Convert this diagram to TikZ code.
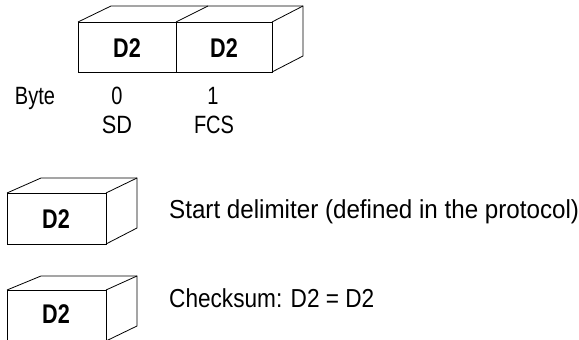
\documentclass[tikz,border=0pt]{standalone}
\usepackage{fontspec}
\setmainfont[FakeStretch=0.8]{Liberation Sans}
\newfontfamily\legendA[FakeStretch=0.93]{Liberation Sans}
\newfontfamily\legendB[FakeStretch=0.87]{Liberation Sans}
\begin{document}
\begin{tikzpicture}[x=1pt,y=-1pt,
  boxline/.style={draw=black,line width=0.8pt,line join=miter},
  lbl/.style={anchor=base,inner sep=0pt,font=\fontsize{25}{28}\selectfont},
  legtext/.style={anchor=base west,inner sep=0pt},
  bold/.style={anchor=base,inner sep=0pt,font=\fontsize{27}{30}\selectfont\bfseries}]
\useasboundingbox (0,0) rectangle (579,340);
% top two-byte box
\coordinate (tA) at (78,22);
\coordinate (tB) at (176,22);
\coordinate (tC) at (272,22);
\coordinate (tD) at (272,72);
\coordinate (tF) at (176,72);
\draw[boxline] (tA) rectangle (tD);
\draw[boxline] (tB) -- (tF);
\draw[boxline] (tA) -- ++(33,-16) -| ([shift={(31,-16)}]tD) -- (tD);
\draw[boxline] (tB) -- ++(32,-16);
\draw[boxline] (tC) -- ++(31,-16);
\node[bold] (d2a) at (127,57) {D2};
\node[bold] (d2b) at (224,57) {D2};
\node[lbl] (byte) at (35,104) {Byte};
\node[lbl] (b0) at (117,104) {0};
\node[lbl] (b1) at (213,104) {1};
\node[lbl,font=\fontsize{25}{28}\legendB] (sd) at (117,133) {SD};
\node[lbl] (fcs) at (214,133) {FCS};
% legend box 1
\coordinate (lA) at (7,193);
\coordinate (lB) at (106,244);
\draw[boxline] (lA) rectangle (lB);
\draw[boxline] (lA) -- ++(34,-15) -| ([shift={(31,-16)}]lB) -- (lB);
\draw[boxline] (106,193) -- ++(31,-15);
\node[bold] (d2c) at (56,228) {D2};
\node[legtext,font=\fontsize{26}{30}\legendA] (sdtext) at (169,218) {Start delimiter (defined in the protocol)};
% legend box 2
\coordinate (mA) at (7,290);
\coordinate (mB) at (106,341);
\draw[boxline] (mA) rectangle (mB);
\draw[boxline] (mA) -- ++(34,-14) -| ([shift={(31,-15)}]mB) -- (mB);
\draw[boxline] (106,290) -- ++(31,-14);
\node[bold] (d2d) at (56,323) {D2};
\node[legtext,font=\fontsize{26}{30}\legendB] (cstext) at (169,307) {Checksum: D2 = D2};
\end{tikzpicture}
\end{document}
